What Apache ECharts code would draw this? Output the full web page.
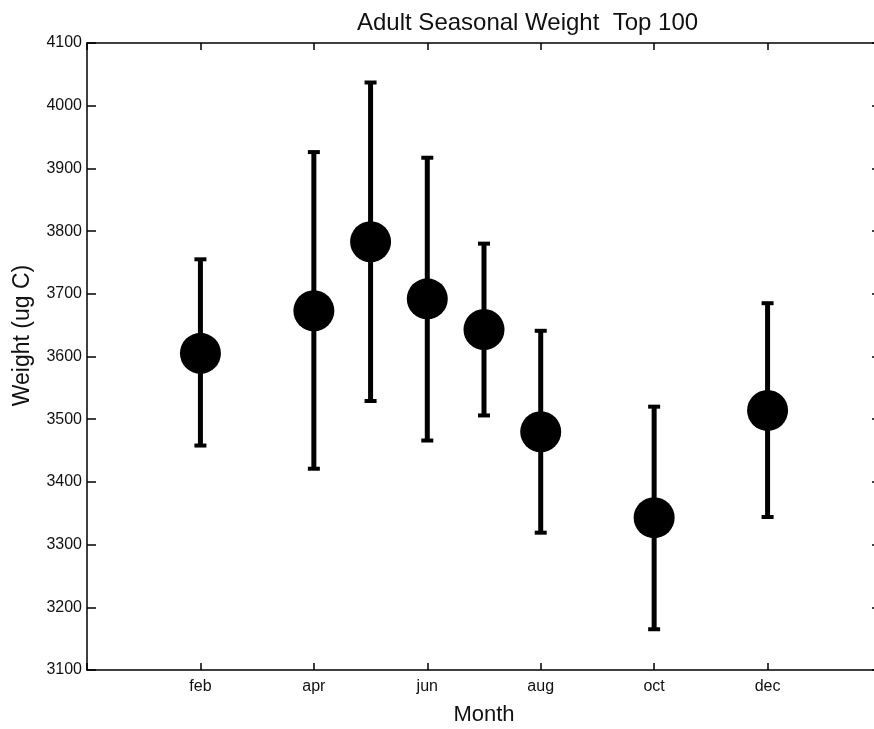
<!DOCTYPE html>
<html>
<head>
<meta charset="utf-8">
<script src="https://cdn.jsdelivr.net/npm/echarts@6/dist/echarts.min.js"></script>
<style>
html,body{margin:0;padding:0;background:#fff;overflow:hidden;}
#chart{width:890px;height:729px;}
</style>
</head>
<body>
<div id="chart"></div>
<script>
// Month positions (1 = jan ... 12 = dec)
var months = [2, 4, 5, 6, 7, 8, 10, 12];
var meanWeight = [3605, 3673, 3783, 3692, 3643, 3480, 3343, 3514];
var upperWeight = [3755, 3926, 4037, 3917, 3780, 3641, 3520, 3685];
var lowerWeight = [3458, 3421, 3529, 3466, 3506, 3319, 3165, 3344];
var xTickValues = [2, 4, 6, 8, 10, 12];
var xTickLabels = ['feb', 'apr', 'jun', 'aug', 'oct', 'dec'];

var FONT = 'Liberation Sans, Arial, Helvetica, sans-serif';

var meanData = months.map(function (m, i) { return [m, meanWeight[i]]; });
var errData = months.map(function (m, i) { return [m, lowerWeight[i], upperWeight[i]]; });

function monthLabel(v) {
  var idx = xTickValues.indexOf(v);
  return idx >= 0 ? xTickLabels[idx] : '';
}

var chart = echarts.init(document.getElementById('chart'), null, {renderer: 'canvas'});
var option = {
  backgroundColor: '#fff',
  animation: false,
  title: {
    text: 'Adult Seasonal Weight  Top 100',
    left: 352,
    top: 6,
    textStyle: {fontFamily: FONT, fontSize: 24, fontWeight: 'normal', color: '#111'}
  },
  grid: {left: 87, top: 43, width: 794, height: 627, containLabel: false, outerBoundsMode: 'none'},
  xAxis: [{
    type: 'value',
    min: 0, max: 14, interval: 2,
    position: 'bottom',
    name: 'Month',
    nameLocation: 'middle',
    nameGap: 34,
    nameTextStyle: {fontFamily: FONT, fontSize: 22, color: '#111'},
    axisLine: {show: true, onZero: false, lineStyle: {color: '#000', width: 1.5}},
    axisTick: {show: true, inside: true, length: 7, lineStyle: {color: '#000', width: 1.5}},
    axisLabel: {show: true, margin: 9, fontFamily: FONT, fontSize: 16, color: '#111', formatter: monthLabel},
    splitLine: {show: false}
  }, {
    type: 'value',
    min: 0, max: 14, interval: 2,
    position: 'top',
    axisLine: {show: true, onZero: false, lineStyle: {color: '#000', width: 1.5}},
    axisTick: {show: true, inside: true, length: 7, lineStyle: {color: '#000', width: 1.5}},
    axisLabel: {show: false},
    splitLine: {show: false}
  }],
  yAxis: [{
    type: 'value',
    min: 3100, max: 4100, interval: 100,
    position: 'left',
    name: 'Weight (ug C)',
    nameLocation: 'middle',
    nameGap: 53,
    nameRotate: 90,
    nameTextStyle: {fontFamily: FONT, fontSize: 23, color: '#111', padding: [0, 0, 0, 42]},
    axisLine: {show: true, onZero: false, lineStyle: {color: '#000', width: 1.5}},
    axisTick: {show: true, inside: true, length: 9, lineStyle: {color: '#000', width: 1.5}},
    axisLabel: {show: true, margin: 5, fontFamily: FONT, fontSize: 16, color: '#111',
      formatter: function (v) { return String(v); }},
    splitLine: {show: false}
  }, {
    type: 'value',
    min: 3100, max: 4100, interval: 100,
    position: 'right',
    axisLine: {show: true, onZero: false, lineStyle: {color: '#000', width: 1.5}},
    axisTick: {show: true, inside: true, length: 9, lineStyle: {color: '#000', width: 1.5}},
    axisLabel: {show: false},
    splitLine: {show: false}
  }],
  series: [{
    type: 'custom',
    xAxisIndex: 0,
    yAxisIndex: 0,
    data: errData,
    renderItem: function (params, api) {
      var x = api.value(0);
      var lo = api.coord([x, api.value(1)]);
      var hi = api.coord([x, api.value(2)]);
      var half = 6;
      return {
        type: 'group',
        children: [
          {type: 'line', shape: {x1: lo[0], y1: lo[1], x2: hi[0], y2: hi[1]}, style: {stroke: '#000', lineWidth: 5}},
          {type: 'line', shape: {x1: lo[0] - half, y1: lo[1], x2: lo[0] + half, y2: lo[1]}, style: {stroke: '#000', lineWidth: 4}},
          {type: 'line', shape: {x1: hi[0] - half, y1: hi[1], x2: hi[0] + half, y2: hi[1]}, style: {stroke: '#000', lineWidth: 4}}
        ]
      };
    },
    z: 2
  }, {
    type: 'scatter',
    xAxisIndex: 0,
    yAxisIndex: 0,
    data: meanData,
    symbol: 'circle',
    symbolSize: 41,
    itemStyle: {color: '#000', opacity: 1},
    z: 3
  }]
};
chart.setOption(option);
</script>
</body>
</html>
